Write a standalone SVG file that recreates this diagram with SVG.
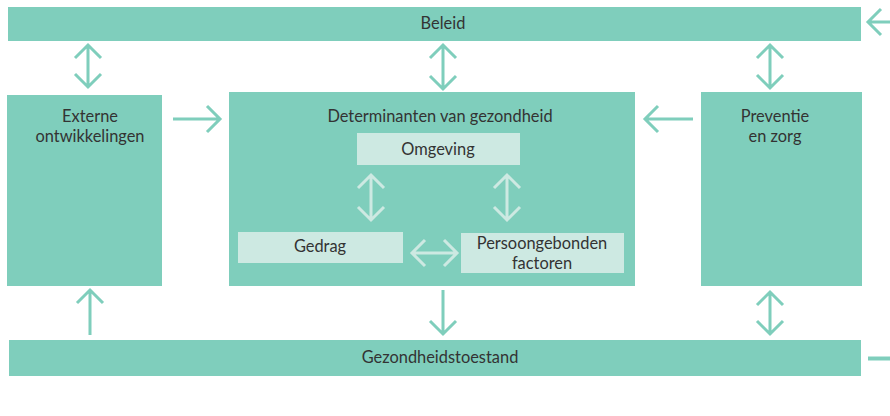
<svg xmlns="http://www.w3.org/2000/svg" width="890" height="416" viewBox="0 0 890 416">
<defs>
<style>
.box{fill:#7fcebc}
.inner{fill:#cde9e2}
.t{font-family:Lato,"Open Sans",sans-serif;font-size:16.4px;fill:#333;text-anchor:middle}
.a{stroke:#7fcebc;stroke-width:3;fill:none;stroke-linecap:butt;stroke-linejoin:miter}
.ai{stroke:#cde9e2;stroke-width:3;fill:none}
</style>
</defs>
<rect width="890" height="416" fill="#fff"/>
<g id="beleid"><rect class="box" x="8" y="7" width="853" height="34"/><text class="t" x="443" y="29">Beleid</text></g>
<g id="externe"><rect class="box" x="7" y="95" width="155" height="191"/><text class="t" x="90" y="122">Externe</text><text class="t" x="90" y="142">ontwikkelingen</text></g>
<g id="determinanten"><rect class="box" x="229" y="92" width="406" height="194"/><text class="t" x="440" y="122">Determinanten van gezondheid</text></g>
<g id="omgeving"><rect class="inner" x="357" y="133" width="163" height="32"/><text class="t" x="438" y="155">Omgeving</text></g>
<g id="gedrag"><rect class="inner" x="238" y="232" width="165" height="31"/><text class="t" x="320" y="252">Gedrag</text></g>
<g id="persoon"><rect class="inner" x="461" y="233" width="163" height="40"/><text class="t" x="542" y="249">Persoongebonden</text><text class="t" x="542" y="269">factoren</text></g>
<g id="preventie"><rect class="box" x="701" y="92" width="161" height="194"/><text class="t" x="775" y="122">Preventie</text><text class="t" x="775" y="142">en zorg</text></g>
<g id="gezondheidstoestand"><rect class="box" x="9" y="340" width="852" height="36"/><text class="t" x="440" y="363">Gezondheidstoestand</text></g>
<g id="connectors">
<path class="a" d="M88 45V87M75 58L88 45L101 58M75 74L88 87L101 74"/>
<path class="a" d="M443 45V89M430 58L443 45L456 58M430 76L443 89L456 76"/>
<path class="a" d="M770 45V88M757 58L770 45L783 58M757 75L770 88L783 75"/>
<path class="a" d="M173 119H220M207 106L220 119L207 132"/>
<path class="a" d="M693 119H645M658 106L645 119L658 132"/>
<path class="a" d="M890 22H868M881 9L868 22L881 35"/>
<path class="a" d="M90 335V290M77 303L90 290L103 303"/>
<path class="a" d="M443 290V334M430 321L443 334L456 321"/>
<path class="a" d="M770 292V334M757 305L770 292L783 305M757 321L770 334L783 321"/>
<path d="M868 358.5H890" stroke="#7fcebc" stroke-width="4"/>
<path class="ai" d="M371 175V220M358 188L371 175L384 188M358 207L371 220L384 207"/>
<path class="ai" d="M507 175V220M494 188L507 175L520 188M494 207L507 220L520 207"/>
<path class="ai" d="M412 253H457M425 240L412 253L425 266M444 240L457 253L444 266"/>
</g>
</svg>
